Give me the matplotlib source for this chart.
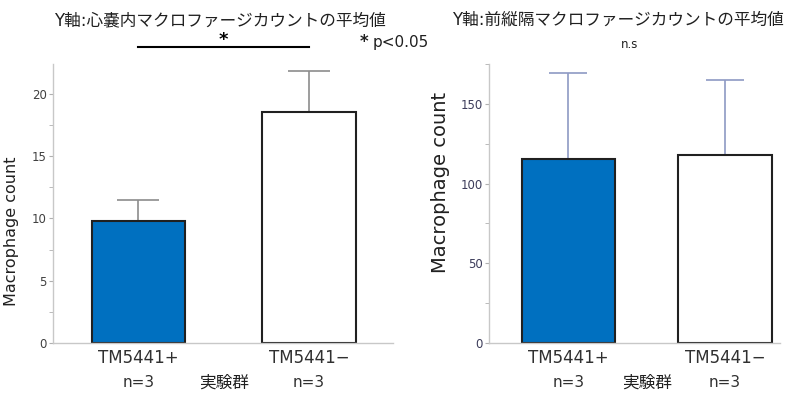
import numpy as np
import matplotlib
matplotlib.use("Agg")
import matplotlib.pyplot as plt
from matplotlib.ticker import MultipleLocator
import matplotlib.transforms as mtransforms

plt.rcParams['font.family'] = ['DejaVu Sans', 'Noto Sans CJK JP']

# データ
groups = ["TM5441+", "TM5441\u2212"]
n_labels = ["n=3", "n=3"]
xlabel = "実験群"
ylabel = "Macrophage count"

# 心嚢内
peri_mean = [9.8, 18.55]
peri_err = [1.7, 3.3]
peri_title = "Y軸:心嚢内マクロファージカウントの平均値"

# 前縦隔
med_mean = [115.5, 118.2]
med_err = [53.8, 46.9]
med_title = "Y軸:前縦隔マクロファージカウントの平均値"

bar_colors = ["#0070C0", "white"]

fig = plt.figure(figsize=(7.86, 3.95), dpi=100)
ax1 = fig.add_axes([0.0674, 0.1316, 0.4326, 0.7063])
ax2 = fig.add_axes([0.6221, 0.1316, 0.3702, 0.7063])


def style_axis(ax, ymax, major, minor, tick_color):
    x = np.arange(len(groups))
    ax.set_ylim(0, ymax)
    ax.yaxis.set_major_locator(MultipleLocator(major))
    ax.yaxis.set_minor_locator(MultipleLocator(minor))
    for s in ["top", "right"]:
        ax.spines[s].set_visible(False)
    for s in ["left", "bottom"]:
        ax.spines[s].set_color("#c8c8c8")
        ax.spines[s].set_linewidth(1.0)
    ax.tick_params(axis="y", which="both", direction="out", color="#b0b0b0",
                   labelsize=8.5, labelcolor=tick_color, pad=1.5)
    ax.tick_params(axis="y", which="major", length=3)
    ax.tick_params(axis="y", which="minor", length=3)
    ax.set_xticks(x)
    ax.set_xticklabels(groups, fontsize=12, color="#303030")
    ax.tick_params(axis="x", length=0, pad=4)
    trans = mtransforms.blended_transform_factory(ax.transData, ax.transAxes)
    for xi, lab in zip(x, n_labels):
        ax.text(xi, -0.143, lab, transform=trans, ha="center", va="center",
                fontsize=11, color="#303030")
    ax.text(0.5, -0.143, xlabel, transform=trans, ha="center", va="center",
            fontsize=12, family=['Noto Sans CJK JP'], color="#202020")


# 左：心嚢内
x = np.arange(len(groups))
ax1.bar(x, peri_mean, width=0.55, color=bar_colors, edgecolor="#202020",
        linewidth=1.5, zorder=2)
ax1.errorbar(x, peri_mean, yerr=[[0, 0], peri_err], fmt="none",
             ecolor="#8c8c8c", elinewidth=1.2, capsize=15, capthick=1.2, zorder=1)
ax1.set_xlim(-0.501, 1.493)
style_axis(ax1, 22.4, 5, 2.5, "#404040")
ax1.set_ylabel(ylabel, fontsize=11.5, color="#202020")
ax1.yaxis.set_label_coords(-0.1, 0.40)

# 有意差
ax1.plot([0, 1], [23.8, 23.8], color="black", lw=1.5, clip_on=False)
ax1.text(0.5, 24.35, "*", ha="center", va="center", fontsize=13,
         fontweight="bold", clip_on=False)
fig.text(0.458, 0.893, "*", ha="left", va="center", fontsize=12,
         fontweight="bold", color="#202020")
fig.text(0.474, 0.893, "p<0.05", ha="left", va="center", fontsize=11,
         color="#202020")

# 右：前縦隔
ax2.bar(x, med_mean, width=0.6, color=bar_colors, edgecolor="#202020",
        linewidth=1.5, zorder=2)
ax2.errorbar(x, med_mean, yerr=[[0, 0], med_err], fmt="none",
             ecolor="#8e9ac4", elinewidth=1.2, capsize=14, capthick=1.2, zorder=1)
ax2.set_xlim(-0.508, 1.351)
style_axis(ax2, 175, 50, 25, "#3c3c5a")
ax2.set_ylabel(ylabel, fontsize=14, color="#202020")
ax2.yaxis.set_label_coords(-0.135, 0.577)
fig.text(630 / 786, 1 - 45 / 395, "n.s", ha="center", va="center",
         fontsize=8.5, color="#202020")

# タイトル
fig.text(220 / 786, 1 - 20 / 395, peri_title, ha="center", va="center",
         fontsize=12, color="#202020")
fig.text(618 / 786, 1 - 20 / 395, med_title, ha="center", va="center",
         fontsize=12, color="#202020")

fig.savefig("out.png", dpi=100)
